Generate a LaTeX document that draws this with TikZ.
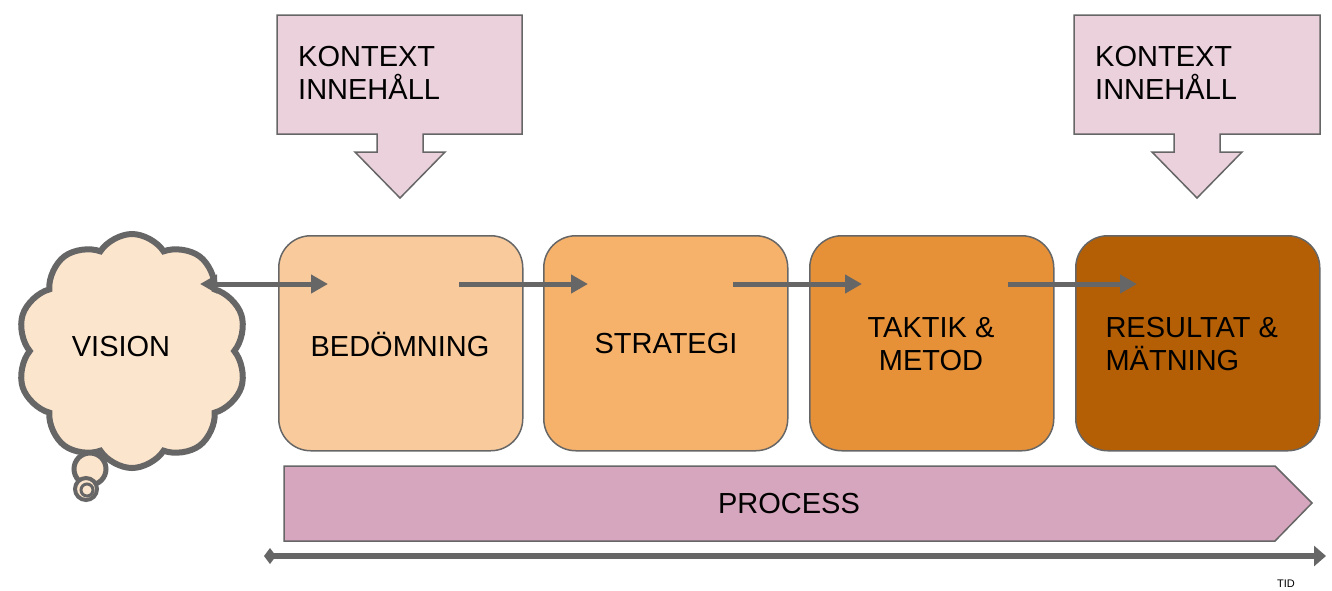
\documentclass[tikz,border=0pt]{standalone}
\usepackage{fontspec}
\setmainfont{Liberation Sans}
\usetikzlibrary{arrows.meta,shapes.symbols}
\definecolor{edge}{HTML}{666666}
\definecolor{ctxfill}{HTML}{EAD1DC}
\definecolor{procfill}{HTML}{D5A6BD}
\definecolor{cloudfill}{HTML}{FCE5CD}
\definecolor{cA}{HTML}{F9CB9C}
\definecolor{cB}{HTML}{F6B26B}
\definecolor{cC}{HTML}{E69138}
\definecolor{cD}{HTML}{B45F06}
\tikzset{
  stagebox/.style={draw=edge, line width=1.5pt, rounded corners=32pt, minimum width=244pt, minimum height=215pt, anchor=north west, inner sep=0pt},
  lbl/.style={font=\fontsize{29}{33}\selectfont, align=left},
  flow/.style={draw=edge, line width=5pt, -{Triangle[length=17pt,width=18pt]}},
  callout/.style={draw=edge, line width=1.5pt, fill=ctxfill},
}
\begin{document}
\begin{tikzpicture}[x=1pt,y=-1pt]
\useasboundingbox (0,0) rectangle (1332,590);
% context callouts
\draw[callout] (277,15) -- (522,15) -- (522,134) -- (423,134) -- (423,152) -- (445,152) -- (400,198) -- (355,152) -- (377,152) -- (377,134) -- (277,134) -- cycle;
\node[lbl, anchor=north west, inner sep=0pt] (ctx1) at (298,46) {KONTEXT\\INNEHÅLL};
\draw[callout] (1074,15) -- (1320,15) -- (1320,134) -- (1220,134) -- (1220,152) -- (1242,152) -- (1197,198) -- (1152,152) -- (1174,152) -- (1174,134) -- (1074,134) -- cycle;
\node[lbl, anchor=north west, inner sep=0pt] (ctx2) at (1095,46) {KONTEXT\\INNEHÅLL};
% stage boxes
\node[stagebox, fill=cA] (b1) at (278,235) {};
\node[stagebox, fill=cB] (b2) at (543,235) {};
\node[stagebox, fill=cC] (b3) at (809,235) {};
\node[stagebox, fill=cD] (b4) at (1075,235) {};
\node[lbl] (t1) at (400,344) {BEDÖMNING};
\node[lbl] (t2) at (666,344) {STRATEGI};
\node[lbl, align=center] (t3) at (931,344) {TAKTIK \&\\METOD};
\node[lbl, anchor=west] (t4) at (1102,344) {RESULTAT \&\\MÄTNING};
% cloud
\node[cloud, cloud puffs=10, cloud puff arc=115, aspect=1, draw=edge, line width=6pt, fill=cloudfill, minimum width=230pt, minimum height=234pt, inner sep=0pt] (vis) at (132,351) {};
\node[lbl] (vt) at (121,347) {VISION};
\node[circle, draw=edge, line width=5pt, fill=cloudfill, minimum size=32pt, inner sep=0pt] (bub1) at (90,469) {};
\node[circle, draw=edge, line width=4pt, fill=cloudfill, minimum size=22pt, inner sep=0pt] (bub2) at (86,489) {};
\node[circle, draw=edge, line width=3pt, minimum size=12pt, inner sep=0pt] (bub3) at (87,490) {};
% arrows
\coordinate (v1) at (200,284); \coordinate (v2) at (328,284);
\draw[draw=edge, line width=5pt, {Triangle[length=17pt,width=18pt]}-{Triangle[length=17pt,width=18pt]}] (v1) -- (v2);
\coordinate (a1) at (459,284); \coordinate (a2) at (588,284);
\draw[flow] (a1) -- (a2);
\coordinate (a3) at (733,284); \coordinate (a4) at (862,284);
\draw[flow] (a3) -- (a4);
\coordinate (a5) at (1008,284); \coordinate (a6) at (1137,284);
\draw[flow] (a5) -- (a6);
% process
\draw[draw=edge, line width=1.5pt, fill=procfill] (284,466) -- (1275,466) -- (1312,503) -- (1275,541) -- (284,541) -- cycle;
\node[lbl] (proc) at (789,504) {PROCESS};
% time axis
\coordinate (tl) at (264,556); \coordinate (tr) at (1326,556);
\draw[draw=edge, line width=6pt, {Kite[length=12pt,width=16pt,inset=6pt]}-{Triangle[length=12pt,width=20pt]}] (tl) -- (tr);
\node[font=\fontsize{11}{13}\selectfont] (tid) at (1286,584) {TID};
\end{tikzpicture}
\end{document}
